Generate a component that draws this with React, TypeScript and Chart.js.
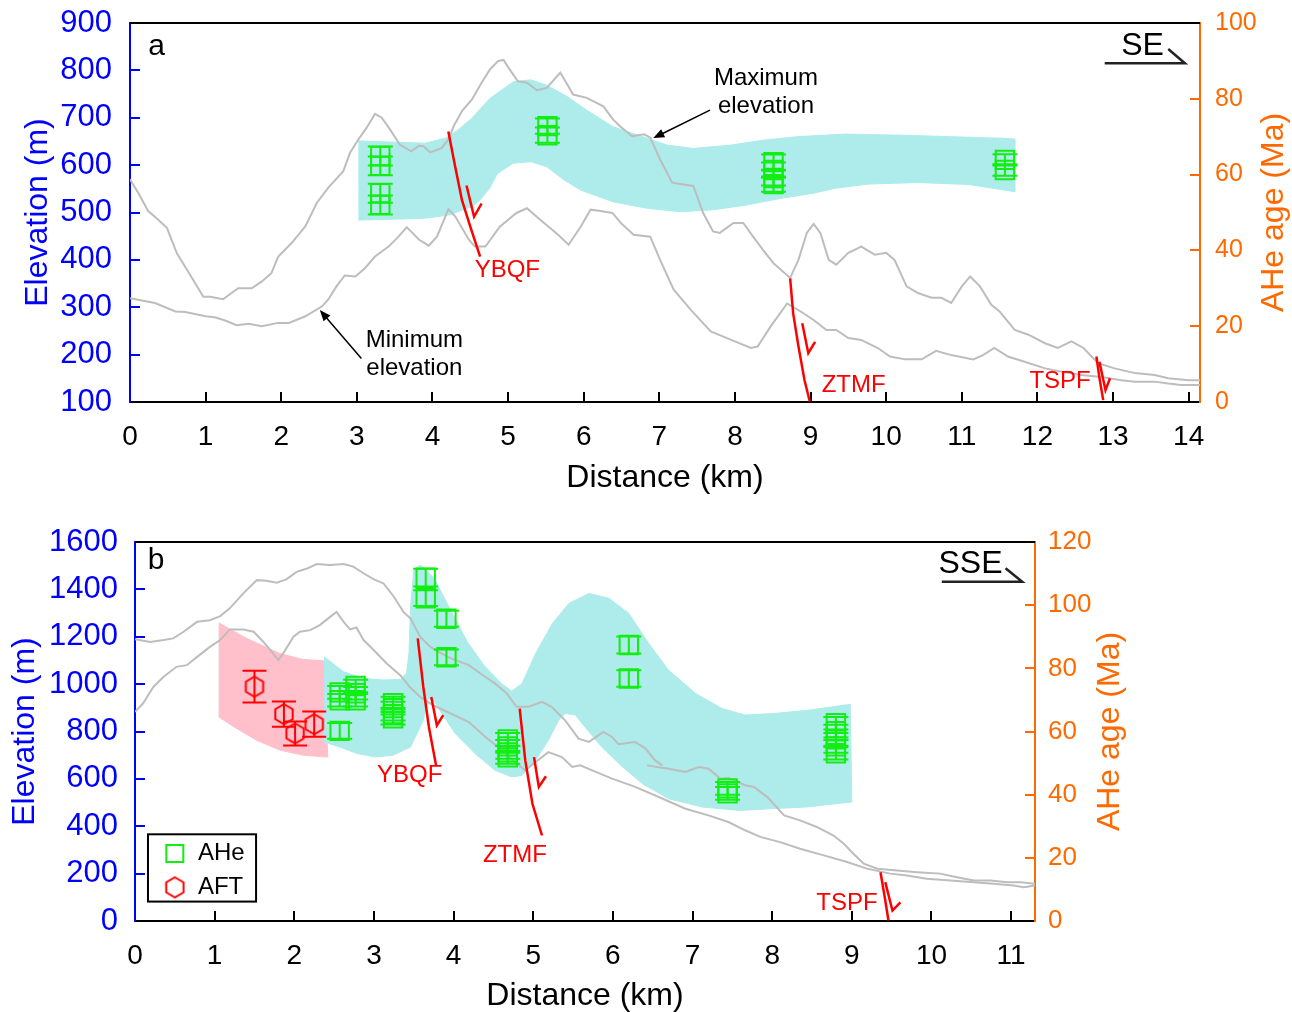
import React, { useEffect, useRef } from 'react';
import { Chart, registerables } from 'chart.js';

Chart.register(...registerables);

const FONT = '"Liberation Sans", Arial, Helvetica, sans-serif';
const BLUE = '#0000ff';
const ORANGE = '#ff6a00';
const GRAY = '#bdbdbd';
const CYAN = '#aeebeb';
const PINK = '#ffc0cb';
const GREEN = '#11ee11';
const RED = '#ff0000';

// ---------------- Panel a data ----------------
const A_X_TICKS = [0, 1, 2, 3, 4, 5, 6, 7, 8, 9, 10, 11, 12, 13, 14];
const A_Y_TICKS = [100, 200, 300, 400, 500, 600, 700, 800, 900];
const A_Y2_TICKS = [0, 20, 40, 60, 80, 100];

const A_MAX_X = [0, 0.11, 0.24, 0.37, 0.49, 0.62, 0.77, 0.97, 1.06, 1.23, 1.43, 1.61, 1.74, 1.87, 1.96, 2.14, 2.32, 2.47, 2.62, 2.82, 2.91, 3.02, 3.13, 3.24, 3.33, 3.44, 3.57, 3.72, 3.82, 3.88, 3.97, 4.12, 4.21, 4.28, 4.39, 4.52, 4.65, 4.76, 4.87, 4.94, 5.02, 5.13, 5.25, 5.38, 5.51, 5.69, 5.77, 5.86, 6.04, 6.26, 6.39, 6.48, 6.64, 6.8, 6.88, 7.01, 7.17, 7.32, 7.45, 7.58, 7.71, 7.8, 7.98, 8.11, 8.24, 8.37, 8.51, 8.73, 8.84, 8.95, 9.04, 9.13, 9.24, 9.34, 9.5, 9.67, 9.85, 10.0, 10.11, 10.27, 10.42, 10.6, 10.73, 10.86, 11.0, 11.11, 11.24, 11.39, 11.5, 11.7, 11.88, 12.1, 12.27, 12.45, 12.61, 12.8, 13.02, 13.29, 13.55, 13.73, 14.0, 14.15];
const A_MAX_ELEV = [570, 541, 503, 485, 467, 414, 375, 322, 322, 317, 340, 340, 354, 372, 407, 436, 471, 520, 552, 587, 626, 654, 679, 708, 700, 675, 643, 629, 641, 640, 627, 636, 654, 682, 714, 738, 774, 802, 820, 822, 802, 777, 774, 758, 763, 795, 774, 749, 742, 724, 696, 682, 661, 665, 658, 612, 563, 559, 556, 499, 460, 457, 478, 478, 449, 421, 393, 362, 400, 457, 476, 457, 400, 390, 415, 428, 411, 415, 400, 344, 330, 320, 320, 309, 344, 365, 344, 305, 291, 252, 242, 224, 214, 228, 214, 182, 171, 161, 157, 150, 146, 146];

const A_MIN_X = [0, 0.33, 0.6, 0.73, 1.0, 1.12, 1.26, 1.41, 1.57, 1.74, 1.96, 2.1, 2.32, 2.54, 2.62, 2.73, 2.84, 2.98, 3.11, 3.24, 3.42, 3.55, 3.66, 3.73, 3.82, 3.95, 4.06, 4.21, 4.3, 4.48, 4.56, 4.7, 4.89, 5.11, 5.25, 5.42, 5.58, 5.69, 5.8, 5.96, 6.09, 6.18, 6.38, 6.49, 6.66, 6.88, 7.01, 7.19, 7.42, 7.68, 7.95, 8.21, 8.3, 8.47, 8.69, 8.87, 9.04, 9.21, 9.34, 9.5, 9.67, 9.89, 10.05, 10.25, 10.47, 10.66, 10.86, 11.15, 11.28, 11.43, 11.61, 11.83, 12.1, 12.32, 12.58, 12.85, 13.11, 13.29, 13.55, 13.73, 13.9, 14.15];
const A_MIN_ELEV = [319, 309, 291, 290, 281, 279, 272, 262, 265, 260, 267, 267, 281, 302, 316, 344, 367, 365, 383, 407, 428, 449, 469, 458, 443, 430, 449, 507, 492, 443, 428, 428, 470, 499, 509, 485, 464, 449, 432, 470, 506, 504, 499, 478, 453, 449, 400, 337, 294, 249, 231, 214, 217, 259, 308, 291, 273, 252, 252, 235, 231, 214, 196, 190, 190, 208, 199, 190, 199, 214, 196, 185, 171, 164, 157, 153, 146, 143, 143, 139, 136, 136];

// AHe age envelope (outline), panel a
const A_BAND_X = [3.02, 3.29, 3.9, 4.17, 4.34, 4.52, 4.76, 5.07, 5.3, 5.51, 5.78, 6.04, 6.39, 6.84, 7.1, 7.45, 7.95, 8.38, 8.82, 9.45, 10.2, 10.86, 11.53, 11.7, 11.7, 11.09, 10.42, 9.77, 9.33, 9.04, 8.6, 8.16, 7.71, 7.28, 6.84, 6.39, 5.96, 5.74, 5.51, 5.3, 5.07, 4.86, 4.76, 4.63, 4.52, 4.21, 3.9, 3.47, 3.02];
const A_BAND_AGE = [68.9, 68.7, 68.3, 69.6, 71.8, 74.9, 80.1, 84.5, 85.0, 83.6, 80.6, 77.0, 72.6, 69.6, 67.8, 66.9, 67.8, 69.1, 70.0, 70.7, 70.4, 70.0, 69.6, 69.4, 55.5, 57.4, 57.9, 57.5, 56.4, 55.1, 53.7, 52.0, 50.7, 50.2, 51.1, 52.8, 55.9, 58.6, 62.1, 63.4, 63.0, 60.3, 56.5, 53.3, 51.5, 49.3, 48.5, 48.2, 48.0];

const A_AHE_X = [3.31, 3.31, 3.31, 3.31, 5.52, 5.52, 8.51, 8.51, 8.51, 8.51, 11.57, 11.57];
const A_AHE_AGE = [64.9, 62.3, 55.1, 52.0, 72.8, 70.4, 63.3, 61.2, 59.1, 57.5, 63.9, 61.2];
const A_AHE_ERR = [2.5, 2.5, 2.5, 2.5, 2, 2, 2, 2, 2, 2, 1.5, 1.5];

// faults, panel a (distance km, elevation m)
const A_YBQF_X = [4.21, 4.3, 4.39, 4.5, 4.63];
const A_YBQF_ELEV = [671, 597, 526, 470, 407];
const A_YBQF_ARROW_X = [4.45, 4.55, 4.65];
const A_YBQF_ARROW_ELEV = [557, 491, 519];
const A_ZTMF_X = [8.73, 8.77, 8.84, 8.92, 8.99];
const A_ZTMF_ELEV = [361, 287, 217, 146, 101];
const A_ZTMF_ARROW_X = [8.89, 8.97, 9.06];
const A_ZTMF_ARROW_ELEV = [266, 203, 227];
const A_TSPF_X = [12.78, 12.82, 12.87];
const A_TSPF_ELEV = [196, 151, 104];
const A_TSPF_ARROW_X = [12.82, 12.9, 12.96];
const A_TSPF_ARROW_ELEV = [185, 125, 150];
const A_DIR_X = [12.89, 13.95, 13.73];
const A_DIR_ELEV = [815, 815, 845];

// ---------------- Panel b data ----------------
const B_X_TICKS = [0, 1, 2, 3, 4, 5, 6, 7, 8, 9, 10, 11];
const B_Y_TICKS = [0, 200, 400, 600, 800, 1000, 1200, 1400, 1600];
const B_Y2_TICKS = [0, 20, 40, 60, 80, 100, 120];

const B_LINE1_X = [0, 0.19, 0.36, 0.48, 0.61, 0.78, 0.94, 1.07, 1.19, 1.36, 1.53, 1.65, 1.78, 1.9, 2.03, 2.16, 2.28, 2.45, 2.62, 2.74, 2.87, 3.0, 3.12, 3.25, 3.37, 3.46, 3.58, 3.71, 3.81, 3.96, 4.19, 4.4, 4.52, 4.67, 4.79, 4.94, 5.11, 5.23, 5.4, 5.57, 5.7, 5.88, 5.99, 6.07, 6.28, 6.41, 6.53, 6.62];
const B_LINE1_ELEV = [1189, 1178, 1186, 1193, 1221, 1263, 1270, 1287, 1320, 1383, 1439, 1436, 1428, 1442, 1474, 1488, 1507, 1503, 1507, 1496, 1468, 1442, 1425, 1369, 1305, 1277, 1200, 1157, 1136, 1110, 1080, 1030, 1003, 960, 904, 904, 925, 904, 847, 770, 756, 798, 777, 746, 756, 728, 678, 657];

const B_LINE2_X = [0, 0.1, 0.23, 0.36, 0.52, 0.65, 0.78, 0.94, 1.07, 1.19, 1.36, 1.49, 1.61, 1.7, 1.8, 1.86, 1.99, 2.07, 2.2, 2.32, 2.45, 2.53, 2.62, 2.7, 2.78, 2.87, 3.0, 3.16, 3.33, 3.45, 3.58, 3.71, 3.83, 4.06, 4.19, 4.4, 4.61, 4.77, 4.9, 5.03, 5.19, 5.36, 5.49, 5.59, 5.74, 5.99, 6.28, 6.62, 6.91, 7.2, 7.45, 7.66, 7.85, 8.1, 8.35, 8.65, 8.94, 9.19, 9.48, 9.69, 9.94, 10.24, 10.53, 10.78, 11.03, 11.16, 11.31];
const B_LINE2_ELEV = [883, 918, 988, 1031, 1073, 1080, 1115, 1157, 1186, 1231, 1231, 1221, 1179, 1143, 1101, 1129, 1200, 1221, 1228, 1249, 1284, 1305, 1263, 1231, 1239, 1186, 1143, 1087, 1038, 988, 946, 918, 897, 861, 840, 777, 721, 671, 636, 671, 713, 692, 650, 657, 636, 601, 566, 517, 474, 446, 418, 383, 355, 333, 305, 277, 249, 221, 200, 192, 178, 171, 164, 157, 150, 143, 150];

const B_LINE3_X = [6.43, 6.7, 6.91, 7.08, 7.2, 7.35, 7.45, 7.66, 7.77, 7.94, 8.15, 8.35, 8.56, 8.77, 8.9, 9.02, 9.15, 9.32, 9.57, 9.82, 10.11, 10.32, 10.53, 10.74, 10.95, 11.12, 11.31];
const B_LINE3_ELEV = [657, 643, 629, 650, 643, 601, 605, 573, 566, 523, 446, 425, 397, 361, 326, 284, 242, 221, 213, 206, 200, 185, 171, 171, 164, 164, 157];

const B_BAND_X = [2.37, 2.38, 2.62, 2.87, 3.12, 3.33, 3.41, 3.44, 3.46, 3.5, 3.58, 3.66, 3.77, 3.93, 4.17, 4.38, 4.6, 4.73, 4.86, 5.03, 5.24, 5.45, 5.7, 5.95, 6.2, 6.45, 6.7, 7.04, 7.37, 7.66, 8.02, 8.44, 8.98, 9.0, 8.44, 8.02, 7.6, 7.12, 6.7, 6.37, 6.12, 5.86, 5.65, 5.53, 5.4, 5.32, 5.19, 5.03, 4.86, 4.73, 4.52, 4.27, 4.02, 3.85, 3.76, 3.68, 3.62, 3.46, 3.24, 3.02, 2.79, 2.57, 2.43];
const B_BAND_AGE = [56.5, 83.6, 78.9, 76.8, 76.3, 76.5, 78.5, 85, 99.5, 111.1, 112.7, 111.1, 108, 100, 88.5, 81, 75.2, 72.8, 75.2, 84.7, 94.2, 100.6, 103.7, 102.2, 97.4, 87.9, 79.4, 72.0, 67.3, 65.2, 65.7, 66.7, 68.6, 37.7, 36.1, 35.6, 35.0, 36.1, 38.7, 43.5, 48.8, 55.1, 61.4, 65.2, 65.7, 63.6, 57.2, 50.9, 46.1, 45.6, 47.7, 53.0, 59.4, 65.7, 69.5, 70.5, 63.6, 55.1, 52.5, 51.9, 53.0, 55.1, 56.2];

const B_AFT_BAND_X = [1.05, 1.4, 1.82, 2.11, 2.37, 2.42, 2.11, 1.82, 1.53, 1.28, 1.05];
const B_AFT_BAND_AGE = [94.4, 89.5, 84.7, 82.8, 82.4, 51.9, 52.5, 54.1, 57.2, 60.9, 64.6];

const B_AHE_X = [2.57, 2.57, 2.57, 2.77, 2.77, 2.77, 3.24, 3.24, 3.24, 3.24, 3.65, 3.65, 3.91, 3.91, 4.68, 4.68, 4.68, 4.68, 6.2, 6.2, 7.44, 7.44, 8.8, 8.8, 8.8, 8.8, 8.8];
const B_AHE_AGE = [72.4, 69.9, 60.2, 74.4, 72.1, 69.9, 69.0, 67.4, 65.5, 64.2, 108.7, 102.2, 95.7, 83.5, 57.5, 55.3, 53.4, 51.8, 87.4, 76.8, 42.0, 40.4, 62.6, 60.1, 57.5, 55.3, 53.1];
const B_AHE_ERR = [2, 2, 2.5, 2, 2, 2, 2, 2, 2, 2, 2.8, 2.5, 2.5, 2.5, 2, 2, 2, 2, 2.7, 2.6, 2, 2, 2, 2, 2, 2, 2];

const B_AFT_X = [1.5, 1.87, 2.01, 2.25];
const B_AFT_AGE = [74.2, 65.5, 59.4, 62.3];
const B_AFT_ERR = [5, 4, 3.8, 4];

const B_YBQF_X = [3.55, 3.62, 3.69, 3.78];
const B_YBQF_ELEV = [1193, 988, 819, 657];
const B_YBQF_ARROW_X = [3.72, 3.79, 3.87];
const B_YBQF_ARROW_ELEV = [946, 826, 869];
const B_ZTMF_X = [4.83, 4.9, 4.99, 5.11];
const B_ZTMF_ELEV = [897, 678, 495, 361];
const B_ZTMF_ARROW_X = [5.01, 5.07, 5.16];
const B_ZTMF_ARROW_ELEV = [692, 566, 611];
const B_TSPF_X = [9.36, 9.41, 9.46];
const B_TSPF_ELEV = [206, 108, 2];
const B_TSPF_ARROW_X = [9.42, 9.51, 9.61];
const B_TSPF_ARROW_ELEV = [164, 44, 79];
const B_DIR_X = [10.13, 11.14, 10.93];
const B_DIR_ELEV = [1432, 1432, 1489];

// ---------------- annotations (text in data coords: km, elevation m) ----------------
const A_TEXTS = [
  { t: 'a', x: 0.24, y: 849, color: '#000', size: 30, align: 'left' },
  { t: 'SE', x: 13.39, y: 851, color: '#000', size: 32, align: 'center' },
  { t: 'Maximum', x: 8.41, y: 784, color: '#000', size: 24, align: 'center' },
  { t: 'elevation', x: 8.41, y: 725, color: '#000', size: 24, align: 'center' },
  { t: 'Minimum', x: 3.76, y: 231, color: '#000', size: 24, align: 'center' },
  { t: 'elevation', x: 3.76, y: 170, color: '#000', size: 24, align: 'center' },
  { t: 'YBQF', x: 4.99, y: 377, color: RED, size: 24, align: 'center' },
  { t: 'ZTMF', x: 9.57, y: 136, color: RED, size: 24, align: 'center' },
  { t: 'TSPF', x: 12.3, y: 144, color: RED, size: 24, align: 'center' },
];
const A_ARROWS = [
  { x1: 7.67, y1: 716, x2: 6.92, y2: 657 },
  { x1: 3.06, y1: 192, x2: 2.51, y2: 294 },
];
const B_TEXTS = [
  { t: 'b', x: 0.16, y: 1520, color: '#000', size: 30, align: 'left' },
  { t: 'SSE', x: 10.49, y: 1507, color: '#000', size: 32, align: 'center' },
  { t: 'YBQF', x: 3.45, y: 615, color: RED, size: 24, align: 'center' },
  { t: 'ZTMF', x: 4.77, y: 277, color: RED, size: 24, align: 'center' },
  { t: 'TSPF', x: 8.94, y: 74, color: RED, size: 24, align: 'center' },
];
const B_LEGEND = {
  x1: 0.163, y1: 366, x2: 1.52, y2: 82,
  items: [
    { kind: 'rect', mx: 0.5, my: 285, tx: 0.79, text: 'AHe' },
    { kind: 'hex', mx: 0.5, my: 142, tx: 0.79, text: 'AFT' },
  ],
};

const pts = (xs: number[], ys: number[]) => xs.map((x, i) => ({ x, y: ys[i] }));

function makeHex(r: number, color: string, lw: number) {
  const c = document.createElement('canvas');
  const w = Math.ceil(2 * r * Math.cos(Math.PI / 6)) + lw * 2 + 2;
  const h = 2 * r + lw * 2 + 2;
  c.width = w;
  c.height = h;
  const g = c.getContext('2d')!;
  g.strokeStyle = color;
  g.lineWidth = lw;
  g.beginPath();
  for (let i = 0; i < 6; i++) {
    const a = -Math.PI / 2 + (i * Math.PI) / 3;
    const x = w / 2 + r * Math.cos(a);
    const y = h / 2 + r * Math.sin(a);
    if (i === 0) g.moveTo(x, y);
    else g.lineTo(x, y);
  }
  g.closePath();
  g.stroke();
  return c;
}

const errorBarPlugin = {
  id: 'errbars',
  afterDatasetsDraw(chart: any) {
    const ctx = chart.ctx;
    chart.data.datasets.forEach((ds: any, i: number) => {
      if (!ds.errs) return;
      const meta = chart.getDatasetMeta(i);
      const ys = chart.scales[ds.yAxisID];
      ctx.save();
      ctx.strokeStyle = ds.borderColor;
      ctx.lineWidth = 2;
      meta.data.forEach((pt: any, j: number) => {
        const d = ds.data[j];
        const e = ds.errs[j];
        const x = pt.x;
        const y1 = ys.getPixelForValue(d.y - e);
        const y2 = ys.getPixelForValue(d.y + e);
        const cw = ds.capWidth / 2;
        ctx.beginPath();
        ctx.moveTo(x, y1);
        ctx.lineTo(x, y2);
        ctx.moveTo(x - cw, y1);
        ctx.lineTo(x + cw, y1);
        ctx.moveTo(x - cw, y2);
        ctx.lineTo(x + cw, y2);
        ctx.stroke();
      });
      ctx.restore();
    });
  },
};

function makeAnnotPlugin(cfg: any) {
  return {
    id: 'annot_' + cfg.name,
    afterDraw(chart: any) {
      const ctx = chart.ctx;
      const xs = chart.scales.x;
      const ys = chart.scales.y;
      const ca = chart.chartArea;
      ctx.save();
      // top frame line
      ctx.strokeStyle = '#000';
      ctx.lineWidth = 2;
      ctx.beginPath();
      ctx.moveTo(ca.left, ca.top);
      ctx.lineTo(ca.right, ca.top);
      ctx.stroke();
      // texts
      ctx.textBaseline = 'middle';
      for (const t of cfg.texts) {
        ctx.font = `${t.size}px ${FONT}`;
        ctx.fillStyle = t.color;
        ctx.textAlign = t.align;
        ctx.fillText(t.t, xs.getPixelForValue(t.x), ys.getPixelForValue(t.y));
      }
      // arrows
      for (const a of cfg.arrows || []) {
        const x1 = xs.getPixelForValue(a.x1), y1 = ys.getPixelForValue(a.y1);
        const x2 = xs.getPixelForValue(a.x2), y2 = ys.getPixelForValue(a.y2);
        const ang = Math.atan2(y2 - y1, x2 - x1);
        const L = 11, W = 4.5;
        ctx.strokeStyle = '#000';
        ctx.fillStyle = '#000';
        ctx.lineWidth = 1.5;
        ctx.beginPath();
        ctx.moveTo(x1, y1);
        ctx.lineTo(x2 - Math.cos(ang) * L * 0.8, y2 - Math.sin(ang) * L * 0.8);
        ctx.stroke();
        ctx.beginPath();
        ctx.moveTo(x2, y2);
        ctx.lineTo(x2 - Math.cos(ang) * L - Math.sin(ang) * W, y2 - Math.sin(ang) * L + Math.cos(ang) * W);
        ctx.lineTo(x2 - Math.cos(ang) * L + Math.sin(ang) * W, y2 - Math.sin(ang) * L - Math.cos(ang) * W);
        ctx.closePath();
        ctx.fill();
      }
      // legend
      if (cfg.legend) {
        const lg = cfg.legend;
        const lx1 = xs.getPixelForValue(lg.x1), ly1 = ys.getPixelForValue(lg.y1);
        const lx2 = xs.getPixelForValue(lg.x2), ly2 = ys.getPixelForValue(lg.y2);
        ctx.fillStyle = '#fff';
        ctx.fillRect(lx1, ly1, lx2 - lx1, ly2 - ly1);
        ctx.strokeStyle = '#000';
        ctx.lineWidth = 2;
        ctx.strokeRect(lx1, ly1, lx2 - lx1, ly2 - ly1);
        for (const it of lg.items) {
          const mx = xs.getPixelForValue(it.mx), my = ys.getPixelForValue(it.my);
          if (it.kind === 'rect') {
            ctx.strokeStyle = GREEN;
            ctx.lineWidth = 2;
            ctx.strokeRect(mx - 8.5, my - 8.5, 17, 17);
          } else if (cfg.hex) {
            ctx.drawImage(cfg.hex, mx - cfg.hex.width / 2, my - cfg.hex.height / 2);
          }
          ctx.font = `24px ${FONT}`;
          ctx.fillStyle = '#000';
          ctx.textAlign = 'left';
          ctx.textBaseline = 'middle';
          ctx.fillText(it.text, xs.getPixelForValue(it.tx), my);
        }
      }
      // right axis title (reads bottom-to-top)
      const rt = cfg.rightTitle;
      ctx.translate(rt.x, (ca.top + ca.bottom) / 2);
      ctx.rotate(-Math.PI / 2);
      ctx.font = `${rt.size}px ${FONT}`;
      ctx.fillStyle = ORANGE;
      ctx.textAlign = 'center';
      ctx.textBaseline = 'middle';
      ctx.fillText(rt.text, 0, 0);
      ctx.restore();
    },
  };
}

function tickGrid(color: string, hide: number[]) {
  return {
    drawOnChartArea: false,
    drawTicks: true,
    tickLength: -10,
    lineWidth: 2,
    color: (c: any) => (c.tick && hide.includes(c.tick.value) ? 'rgba(0,0,0,0)' : color),
  };
}

function lineDs(data: any[], color: string, width: number, order: number, axis = 'y') {
  return {
    data,
    borderColor: color,
    backgroundColor: color,
    borderWidth: width,
    pointRadius: 0,
    fill: false,
    tension: 0,
    order,
    yAxisID: axis,
  };
}

function polyDs(data: any[], color: string, order: number) {
  return {
    data,
    borderColor: color,
    backgroundColor: color,
    borderWidth: 1,
    pointRadius: 0,
    fill: 'shape',
    tension: 0,
    order,
    yAxisID: 'y2',
  };
}

const zeroPad = (s: any) => {
  s.paddingTop = 0;
  s.paddingBottom = 0;
  s.paddingLeft = 0;
  s.paddingRight = 0;
};

function makeOptions(p: any) {
  return {
    responsive: false,
    animation: false,
    events: [],
    layout: { padding: { top: p.top, left: 0, right: 0, bottom: 0 }, autoPadding: false },
    plugins: { legend: { display: false }, tooltip: { enabled: false } },
    scales: {
      x: {
        type: 'linear',
        min: 0,
        max: p.xMax,
        afterBuildTicks: (s: any) => { s.ticks = p.xTicks.map((v: number) => ({ value: v })); },
        afterFit: (s: any) => { s.height = p.xHeight; zeroPad(s); },
        ticks: { color: '#000', font: { size: 28 }, padding: p.xPad, autoSkip: false, maxRotation: 0, callback: (v: any) => String(v) },
        grid: tickGrid('#000', [0]),
        border: { color: '#000', width: 2 },
        title: { display: true, text: 'Distance (km)', color: '#000', font: { size: 32 }, padding: { top: 0, bottom: p.xTitlePad } },
      },
      y: {
        type: 'linear',
        position: 'left',
        min: p.yMin,
        max: p.yMax,
        afterBuildTicks: (s: any) => { s.ticks = p.yTicks.map((v: number) => ({ value: v })); },
        afterFit: (s: any) => { s.width = p.left; zeroPad(s); },
        ticks: { color: BLUE, font: { size: 31 }, padding: p.yPad, autoSkip: false, callback: (v: any) => String(v) },
        grid: tickGrid(BLUE, [p.yMin, p.yMax]),
        border: { color: BLUE, width: 2 },
        title: { display: true, text: 'Elevation (m)', color: BLUE, font: { size: 32 }, padding: { top: p.yTitlePad, bottom: 0 } },
      },
      y2: {
        type: 'linear',
        position: 'right',
        min: 0,
        max: p.y2Max,
        afterBuildTicks: (s: any) => { s.ticks = p.y2Ticks.map((v: number) => ({ value: v })); },
        afterFit: (s: any) => { s.width = p.rightW; zeroPad(s); },
        ticks: { color: ORANGE, font: { size: p.y2Size }, padding: p.y2Pad, autoSkip: false, callback: (v: any) => String(v) },
        grid: tickGrid(ORANGE, [0, p.y2Max]),
        border: { color: ORANGE, width: 2 },
      },
    },
  };
}

function configA() {
  const datasets: any[] = [
    { data: pts(A_AHE_X, A_AHE_AGE), showLine: false, pointStyle: 'rect', pointRadius: 13, borderColor: GREEN, backgroundColor: 'rgba(0,0,0,0)', borderWidth: 2, order: 0, yAxisID: 'y2', errs: A_AHE_ERR, capWidth: 25 },
    lineDs(pts(A_YBQF_X, A_YBQF_ELEV), RED, 2.5, 1),
    lineDs(pts(A_YBQF_ARROW_X, A_YBQF_ARROW_ELEV), RED, 2.5, 1),
    lineDs(pts(A_ZTMF_X, A_ZTMF_ELEV), RED, 2.5, 1),
    lineDs(pts(A_ZTMF_ARROW_X, A_ZTMF_ARROW_ELEV), RED, 2.5, 1),
    lineDs(pts(A_TSPF_X, A_TSPF_ELEV), RED, 2.5, 1),
    lineDs(pts(A_TSPF_ARROW_X, A_TSPF_ARROW_ELEV), RED, 2.5, 1),
    lineDs(pts(A_DIR_X, A_DIR_ELEV), '#222', 2.5, 2),
    lineDs(pts(A_MAX_X, A_MAX_ELEV), GRAY, 2, 3),
    lineDs(pts(A_MIN_X, A_MIN_ELEV), GRAY, 2, 3),
    polyDs(pts(A_BAND_X, A_BAND_AGE), CYAN, 4),
  ];
  return {
    type: 'line',
    data: { datasets },
    options: makeOptions({
      top: 23, left: 130, rightW: 92, xHeight: 98, xMax: 14.15, yMin: 100, yMax: 900, y2Max: 100,
      xTicks: A_X_TICKS, yTicks: A_Y_TICKS, y2Ticks: A_Y2_TICKS,
      xPad: 28, yPad: 28, y2Pad: 25, y2Size: 25, xTitlePad: 3, yTitlePad: 19,
    }),
    plugins: [errorBarPlugin, makeAnnotPlugin({ name: 'a', texts: A_TEXTS, arrows: A_ARROWS, rightTitle: { text: 'AHe age (Ma)', x: 1274, size: 32 } })],
  };
}

function configB(hex: HTMLCanvasElement) {
  const datasets: any[] = [
    { data: pts(B_AHE_X, B_AHE_AGE), showLine: false, pointStyle: 'rect', pointRadius: 13, borderColor: GREEN, backgroundColor: 'rgba(0,0,0,0)', borderWidth: 2, order: 0, yAxisID: 'y2', errs: B_AHE_ERR, capWidth: 25 },
    { data: pts(B_AFT_X, B_AFT_AGE), showLine: false, pointStyle: hex, pointRadius: 10, borderColor: RED, backgroundColor: 'rgba(0,0,0,0)', borderWidth: 2, order: 0, yAxisID: 'y2', errs: B_AFT_ERR, capWidth: 24 },
    lineDs(pts(B_YBQF_X, B_YBQF_ELEV), RED, 2.5, 1),
    lineDs(pts(B_YBQF_ARROW_X, B_YBQF_ARROW_ELEV), RED, 2.5, 1),
    lineDs(pts(B_ZTMF_X, B_ZTMF_ELEV), RED, 2.5, 1),
    lineDs(pts(B_ZTMF_ARROW_X, B_ZTMF_ARROW_ELEV), RED, 2.5, 1),
    lineDs(pts(B_TSPF_X, B_TSPF_ELEV), RED, 2.5, 1),
    lineDs(pts(B_TSPF_ARROW_X, B_TSPF_ARROW_ELEV), RED, 2.5, 1),
    lineDs(pts(B_DIR_X, B_DIR_ELEV), '#222', 2.5, 2),
    lineDs(pts(B_LINE1_X, B_LINE1_ELEV), GRAY, 2, 3),
    lineDs(pts(B_LINE2_X, B_LINE2_ELEV), GRAY, 2, 3),
    lineDs(pts(B_LINE3_X, B_LINE3_ELEV), GRAY, 2, 3),
    polyDs(pts(B_BAND_X, B_BAND_AGE), CYAN, 4),
    polyDs(pts(B_AFT_BAND_X, B_AFT_BAND_AGE), PINK, 5),
  ];
  return {
    type: 'line',
    data: { datasets },
    options: makeOptions({
      top: 42, left: 135, rightW: 257, xHeight: 91, xMax: 11.3, yMin: 0, yMax: 1600, y2Max: 120,
      xTicks: B_X_TICKS, yTicks: B_Y_TICKS, y2Ticks: B_Y2_TICKS,
      xPad: 28, yPad: 27, y2Pad: 23, y2Size: 26, xTitlePad: -3, yTitlePad: 6,
    }),
    plugins: [errorBarPlugin, makeAnnotPlugin({ name: 'b', texts: B_TEXTS, arrows: [], legend: B_LEGEND, hex, rightTitle: { text: 'AHe age (Ma)', x: 1110, size: 32 } })],
  };
}

export default function App() {
  const refA = useRef<HTMLCanvasElement>(null);
  const refB = useRef<HTMLCanvasElement>(null);
  useEffect(() => {
    Chart.defaults.font.family = FONT;
    const hex = makeHex(10, RED, 2);
    const ca = new Chart(refA.current as any, configA() as any);
    const cb = new Chart(refB.current as any, configB(hex) as any);
    return () => {
      ca.destroy();
      cb.destroy();
    };
  }, []);
  return (
    <div style={{ position: 'absolute', left: 0, top: 0, width: 1292, height: 1012, background: '#fff' }}>
      <canvas ref={refA} width={1292} height={500} style={{ position: 'absolute', left: 0, top: 0 }} />
      <canvas ref={refB} width={1292} height={512} style={{ position: 'absolute', left: 0, top: 500 }} />
    </div>
  );
}
